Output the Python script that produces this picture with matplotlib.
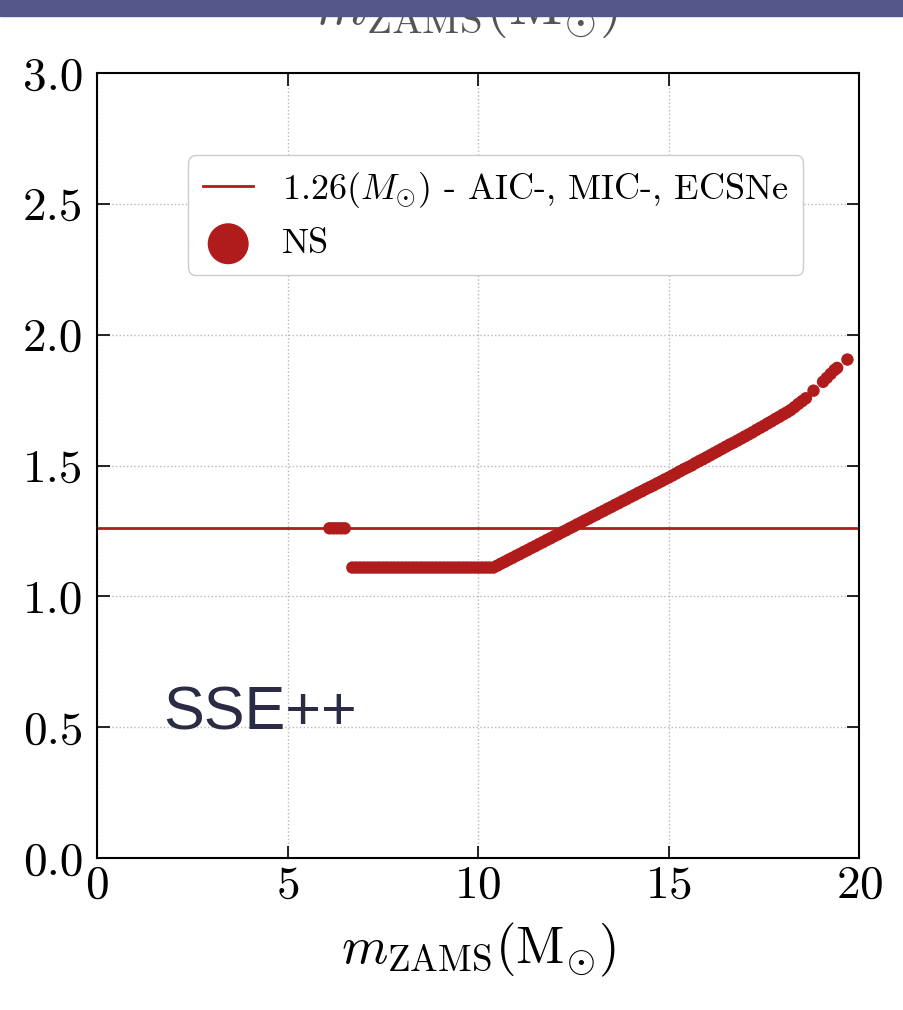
import matplotlib.pyplot as plt
from matplotlib.patches import Rectangle

plt.rcParams['font.family'] = 'serif'
plt.rcParams['font.serif'] = ['cmr10']
plt.rcParams['mathtext.fontset'] = 'cm'
plt.rcParams['axes.formatter.use_mathtext'] = True

# NS remnant masses
ns_small_x = [6.1, 6.2, 6.3, 6.4, 6.5]
ns_small_y = [1.26, 1.26, 1.26, 1.26, 1.26]

ns_flat_x = [6.7, 6.8, 6.9, 7.0, 7.1, 7.2, 7.3, 7.4, 7.5, 7.6, 7.7, 7.8, 7.9,
             8.0, 8.1, 8.2, 8.3, 8.4, 8.5, 8.6, 8.7, 8.8, 8.9, 9.0, 9.1, 9.2,
             9.3, 9.4, 9.5, 9.6, 9.7, 9.8, 9.9, 10.0, 10.1, 10.2, 10.3, 10.4]
ns_flat_y = [1.11, 1.11, 1.11, 1.11, 1.11, 1.11, 1.11, 1.11, 1.11, 1.11,
             1.11, 1.11, 1.11, 1.11, 1.11, 1.11, 1.11, 1.11, 1.11, 1.11,
             1.11, 1.11, 1.11, 1.11, 1.11, 1.11, 1.11, 1.11, 1.11, 1.11,
             1.11, 1.11, 1.11, 1.11, 1.11, 1.11, 1.11, 1.11]

ns_rise_x = [10.5, 10.6, 10.7, 10.8, 10.9, 11.0, 11.1, 11.2, 11.3, 11.4, 11.5,
             11.6, 11.7, 11.8, 11.9, 12.0, 12.1, 12.2, 12.3, 12.4, 12.5, 12.6,
             12.7, 12.8, 12.9, 13.0, 13.1, 13.2, 13.3, 13.4, 13.5, 13.6, 13.7,
             13.8, 13.9, 14.0, 14.1, 14.2, 14.3, 14.4, 14.5, 14.6, 14.7, 14.8,
             14.9, 15.0, 15.1, 15.2, 15.3, 15.4, 15.5, 15.6, 15.7, 15.8, 15.9,
             16.0, 16.1, 16.2, 16.3, 16.4, 16.5, 16.6, 16.7, 16.8, 16.9, 17.0,
             17.1, 17.2, 17.3, 17.4, 17.5, 17.6, 17.7, 17.8, 17.9, 18.0, 18.1,
             18.2, 18.3, 18.4, 18.5, 18.6, 18.8, 19.05, 19.15, 19.25, 19.35,
             19.42, 19.69]
ns_rise_y = [1.117, 1.125, 1.132, 1.140, 1.147, 1.155, 1.162, 1.170, 1.177,
             1.185, 1.192, 1.200, 1.207, 1.215, 1.222, 1.230, 1.237, 1.245,
             1.252, 1.260, 1.267, 1.275, 1.282, 1.290, 1.297, 1.305, 1.312,
             1.320, 1.327, 1.335, 1.342, 1.350, 1.357, 1.365, 1.372, 1.380,
             1.387, 1.395, 1.402, 1.410, 1.417, 1.424, 1.432, 1.439, 1.447,
             1.454, 1.462, 1.470, 1.478, 1.486, 1.493, 1.500, 1.509, 1.517,
             1.524, 1.532, 1.540, 1.548, 1.556, 1.564, 1.572, 1.580, 1.587,
             1.595, 1.603, 1.611, 1.619, 1.627, 1.636, 1.644, 1.652, 1.661,
             1.669, 1.678, 1.686, 1.695, 1.703, 1.712, 1.723, 1.735, 1.746,
             1.757, 1.786, 1.820, 1.835, 1.850, 1.865, 1.873, 1.905]

m_ecsn = 1.26
red = '#b01c1c'

fig = plt.figure(figsize=(9.04, 10.1), dpi=100)
ax = fig.add_axes([0.1073, 0.1505, 0.8432, 0.7772])

ax.axhline(m_ecsn, color=red, lw=2, zorder=2,
           label=r'$1.26(M_{\odot})$ - AIC-, MIC-, ECSNe')
ax.scatter(ns_small_x + ns_flat_x + ns_rise_x,
           ns_small_y + ns_flat_y + ns_rise_y,
           s=80, color=red, edgecolors='none', zorder=3, label='NS')

ax.set_xlim(0, 20)
ax.set_ylim(0, 3.0)
ax.set_xticks([0, 5, 10, 15, 20])
ax.set_yticks([0.0, 0.5, 1.0, 1.5, 2.0, 2.5, 3.0])
ax.set_yticklabels(['0.0', '0.5', '1.0', '1.5', '2.0', '2.5', '3.0'])
ax.tick_params(direction='in', top=True, right=True, length=9, width=1.2,
               labelsize=34)
ax.tick_params(axis='x', pad=5)
ax.tick_params(axis='y', pad=10)
ax.grid(True, ls=':', color='#b8b8b8', lw=1)
for sp in ax.spines.values():
    sp.set_linewidth(1.5)
ax.set_xlabel(r'$m_{\rm ZAMS}(\rm M_{\odot})$', fontsize=38, labelpad=10)

ax.legend(loc='upper left', bbox_to_anchor=(0.12, 0.895), borderaxespad=0,
          fontsize=26, markerscale=3.3, handlelength=1.4, frameon=True,
          fancybox=True, edgecolor='#cccccc', framealpha=1)

# slide overlay: header band hiding the panel title above, and the label
fig.text(0.181, 0.278, 'SSE++', family='Liberation Sans', fontsize=44,
         color='#2b2b45')
fig.text(0.517, 0.976, r'$m_{\rm ZAMS}(\rm M_{\odot})$', fontsize=42,
         ha='center', va='baseline', color='#555555')
fig.patches.append(Rectangle((0, 0.984), 1, 0.016, transform=fig.transFigure,
                             color='#55578a', zorder=10))

fig.savefig('out.png', dpi=100)
